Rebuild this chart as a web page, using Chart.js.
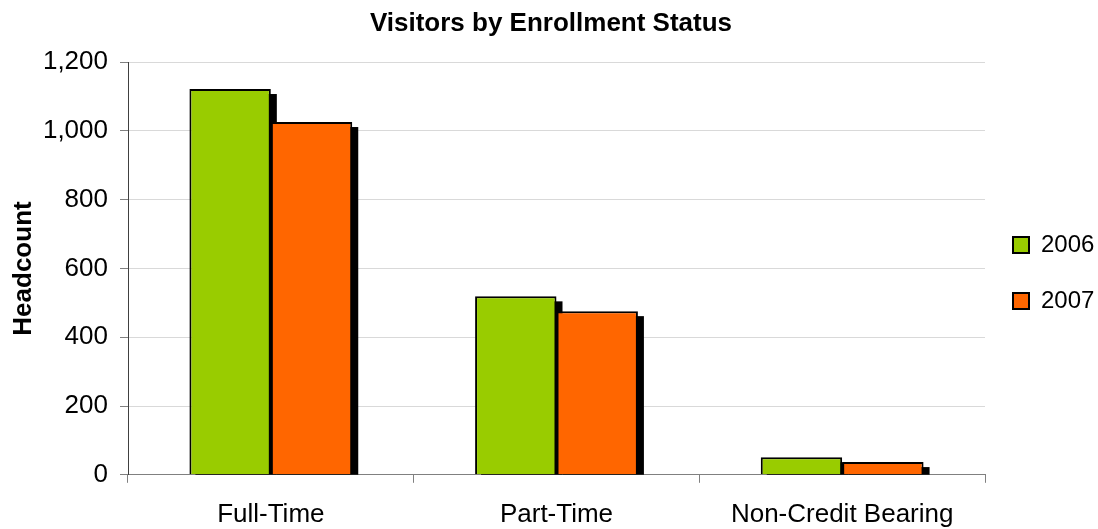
<!DOCTYPE html>
<html>
<head>
<meta charset="utf-8">
<title>Visitors by Enrollment Status</title>
<script src="https://cdn.jsdelivr.net/npm/chart.js@4.4.1/dist/chart.umd.min.js"></script>
<style>
  html, body { margin: 0; padding: 0; background: #fff; }
  #wrap { width: 1098px; height: 529px; }
</style>
</head>
<body>
<div id="wrap"><canvas id="bar-chart"></canvas></div>
<script>
// data
const categories = ['Full-Time', 'Part-Time', 'Non-Credit Bearing'];
const seriesNames = ['2006', '2007'];
const values2006 = [1122, 519, 51];
const values2007 = [1026, 476, 37];
const yTicks = [0, 200, 400, 600, 800, 1000, 1200];

// black drop shadow behind every bar, clipped to the plot area
const barShadow = {
    id: 'barShadow',
    beforeDatasetsDraw(chart) {
        const ctx = chart.ctx;
        const area = chart.chartArea;
        ctx.save();
        ctx.beginPath();
        ctx.rect(area.left, area.top, area.right - area.left, area.bottom - area.top);
        ctx.clip();
        ctx.fillStyle = '#000';
        chart.data.datasets.forEach((ds, i) => {
            chart.getDatasetMeta(i).data.forEach(bar => {
                const p = bar.getProps(['x', 'y', 'base', 'width'], true);
                ctx.fillRect(p.x - p.width / 2 + 6, p.y + 5, p.width, p.base - p.y);
            });
        });
        ctx.restore();
    }
};

// legend: narrower box so the plot reaches further right, items nudged left
const legendPlace = {
    id: 'legendPlace',
    beforeInit(chart) {
        const legend = chart.legend;
        const fit = legend.fit;
        legend.fit = function () {
            fit.call(this);
            this.width = 113;
        };
    },
    afterLayout(chart) {
        chart.legend.left -= 4;
        chart.legend.right -= 4;
    }
};

Chart.defaults.font.family = '"Liberation Sans", Arial, sans-serif';
Chart.defaults.color = '#000';

const ctx = document.getElementById('bar-chart').getContext('2d');
const chart = new Chart(ctx, {
    type: 'bar',
    data: {
        labels: categories,
        datasets: [
            {
                label: seriesNames[0],
                data: values2006,
                backgroundColor: '#99CC00',
                borderColor: '#000',
                borderWidth: 2,
                barPercentage: 1,
                categoryPercentage: 0.57
            },
            {
                label: seriesNames[1],
                data: values2007,
                backgroundColor: '#FF6600',
                borderColor: '#000',
                borderWidth: 2,
                barPercentage: 1,
                categoryPercentage: 0.57
            }
        ]
    },
    plugins: [barShadow, legendPlace],
    options: {
        responsive: true,
        maintainAspectRatio: false,
        animation: false,
        locale: 'en-US',
        layout: { padding: { left: 4, right: 0, top: 0, bottom: -17 } },
        plugins: {
            title: {
                display: true,
                text: 'Visitors by Enrollment Status',
                color: '#000',
                font: { size: 26, weight: 'bold' },
                padding: { top: 8, bottom: 23 }
            },
            legend: {
                position: 'right',
                labels: {
                    color: '#000',
                    font: { size: 24 },
                    boxWidth: 16,
                    boxHeight: 16,
                    padding: 32
                }
            },
            tooltip: { enabled: false }
        },
        scales: {
            x: {
                grid: {
                    display: true,
                    drawOnChartArea: false,
                    tickLength: 8,
                    color: '#808080'
                },
                border: { color: '#808080' },
                ticks: { font: { size: 26 }, padding: 16, color: '#000' }
            },
            y: {
                min: 0,
                max: 1200,
                afterBuildTicks: scale => { scale.ticks = yTicks.map(v => ({ value: v })); },
                afterFit: scale => { scale.width = 124; },
                ticks: { font: { size: 26 }, padding: 12, color: '#000' },
                grid: { color: '#d9d9d9', tickColor: '#808080', tickLength: 8 },
                border: { color: '#404040' },
                title: {
                    display: true,
                    text: 'Headcount',
                    color: '#000',
                    font: { size: 26, weight: 'bold' },
                    padding: { top: 4, bottom: 0 }
                }
            }
        }
    }
});
</script>
</body>
</html>
